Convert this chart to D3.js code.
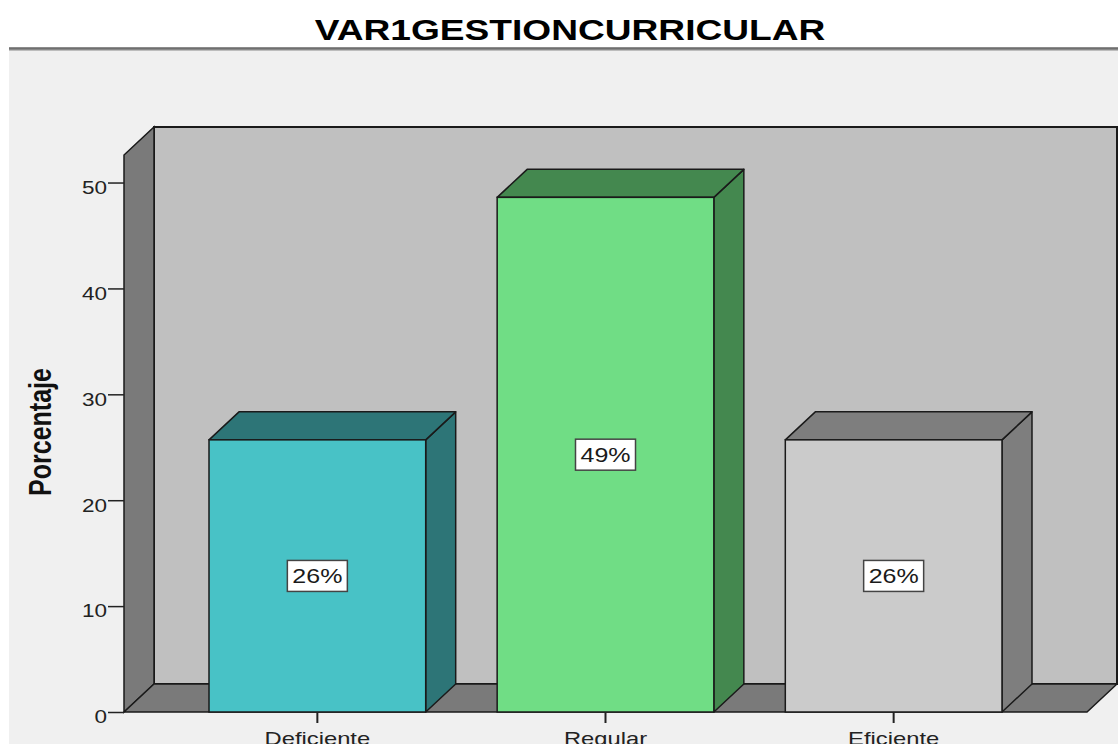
<!DOCTYPE html>
<html>
<head>
<meta charset="utf-8">
<script src="https://cdn.jsdelivr.net/npm/d3@7"></script>
<style>
  html, body { margin: 0; padding: 0; background: #ffffff; }
  svg { display: block; }
  text { font-family: "Liberation Sans", Arial, sans-serif; }
</style>
</head>
<body>
<svg id="chart" width="1118" height="744"></svg>
<script>
// ---- data ----
const categories = ["Deficiente", "Regular", "Eficiente"];
const percentages = [25.7, 48.6, 25.7];
const yTicks = [0, 10, 20, 30, 40, 50];
const title = "VAR1GESTIONCURRICULAR";
const yTitle = "Porcentaje";

// ---- styles ----
const frontColors = ["#48c2c6", "#70dd85", "#cbcbcb"];
const sideColors = ["#2d7577", "#44884f", "#7e7e7e"];
const stretch = 1.25;

const svg = d3.select("#chart");
const W = 1118, H = 744;

// panel background
svg.append("rect").attr("x", 0).attr("y", 0).attr("width", W).attr("height", H).attr("fill", "#ffffff");
svg.append("rect").attr("x", 9).attr("y", 50).attr("width", W - 9).attr("height", H - 50).attr("fill", "#f0f0f0");
svg.append("line").attr("x1", 9).attr("x2", W).attr("y1", 49).attr("y2", 49)
  .attr("stroke", "#8a8a8a").attr("stroke-width", 3);
svg.append("line").attr("x1", 9).attr("x2", W).attr("y1", 48).attr("y2", 48)
  .attr("stroke", "#555", ).attr("stroke-width", 1);

// title
svg.append("text")
  .attr("transform", `translate(570,40) scale(1.28,1)`)
  .attr("text-anchor", "middle")
  .attr("font-size", 29).attr("font-weight", "bold").attr("fill", "#000")
  .text(title);

// scales
const x = d3.scaleBand().domain(categories).range([124, 1087])
  .paddingInner(0.248).paddingOuter(0.295);
const y = d3.scaleLinear().domain([0, 52.6]).range([712, 155]);
const dx = 30, dy = -28;
const x0 = 124, x1 = 1087;
const yMax = y.domain()[1];

const stroke = "#1a1a1a";
// back wall
svg.append("polygon")
  .attr("points", [[x0 + dx, y(yMax) + dy], [x1 + dx, y(yMax) + dy], [x1 + dx, y(0) + dy], [x0 + dx, y(0) + dy]].join(" "))
  .attr("fill", "#c0c0c0").attr("stroke", stroke).attr("stroke-width", 2);
// left wall
svg.append("polygon")
  .attr("points", [[x0, y(0)], [x0, y(yMax)], [x0 + dx, y(yMax) + dy], [x0 + dx, y(0) + dy]].join(" "))
  .attr("fill", "#7a7a7a").attr("stroke", stroke).attr("stroke-width", 1.5);
// floor
svg.append("polygon")
  .attr("points", [[x0, y(0)], [x0 + dx, y(0) + dy], [x1 + dx, y(0) + dy], [x1, y(0)]].join(" "))
  .attr("fill", "#7a7a7a").attr("stroke", stroke).attr("stroke-width", 1.5);

// bars
const bars = svg.append("g").selectAll("g").data(categories).join("g");
bars.each(function (c, i) {
  const g = d3.select(this);
  const bx = x(c), bw = x.bandwidth();
  const top = y(percentages[i]), bot = y(0);
  // right side
  g.append("polygon")
    .attr("points", [[bx + bw, bot], [bx + bw, top], [bx + bw + dx, top + dy], [bx + bw + dx, bot + dy]].join(" "))
    .attr("fill", sideColors[i]).attr("stroke", stroke).attr("stroke-width", 1.5).attr("stroke-linejoin", "round");
  // top
  g.append("polygon")
    .attr("points", [[bx, top], [bx + dx, top + dy], [bx + bw + dx, top + dy], [bx + bw, top]].join(" "))
    .attr("fill", sideColors[i]).attr("stroke", stroke).attr("stroke-width", 1.5).attr("stroke-linejoin", "round");
  // front
  g.append("rect")
    .attr("x", bx).attr("y", top).attr("width", bw).attr("height", bot - top)
    .attr("fill", frontColors[i]).attr("stroke", stroke).attr("stroke-width", 1.5);
  // value label
  const cx = bx + bw / 2, cy = y(percentages[i] / 2);
  g.append("rect")
    .attr("x", cx - 30).attr("y", cy - 15.5).attr("width", 60).attr("height", 31)
    .attr("fill", "#ffffff").attr("stroke", "#444").attr("stroke-width", 1.5);
  g.append("text")
    .attr("transform", `translate(${cx},${cy + 7}) scale(${stretch},1)`)
    .attr("text-anchor", "middle").attr("font-size", 20).attr("fill", "#1a1a1a")
    .text(Math.round(percentages[i]) + "%");
});

// y axis
const yAxis = svg.append("g").attr("transform", `translate(${x0},0)`)
  .call(d3.axisLeft(y).tickValues(yTicks).tickSize(16).tickFormat(d3.format("d")));
yAxis.select(".domain").remove();
yAxis.selectAll(".tick line").attr("stroke", "#222").attr("stroke-width", 1.5);
yAxis.selectAll(".tick text")
  .attr("x", -17 / stretch).attr("dy", "0.6em")
  .attr("transform", `scale(${stretch},1)`)
  .attr("font-size", 18).attr("fill", "#222")
  .attr("font-family", "Liberation Sans, Arial, sans-serif");

// x axis
const xAxis = svg.append("g").attr("transform", `translate(0,${y(0)})`)
  .call(d3.axisBottom(x).tickSize(11).tickPadding(0));
xAxis.select(".domain").remove();
xAxis.selectAll(".tick line").attr("stroke", "#222").attr("stroke-width", 2);
xAxis.selectAll(".tick text")
  .attr("y", 0).attr("dy", 0)
  .attr("transform", `translate(0,33) scale(${stretch},1)`)
  .attr("font-size", 19).attr("fill", "#222")
  .attr("font-family", "Liberation Sans, Arial, sans-serif");

// y title
svg.append("text")
  .attr("transform", `translate(51,432) scale(${stretch},1) rotate(-90)`)
  .attr("text-anchor", "middle")
  .attr("font-size", 25).attr("font-weight", "bold").attr("fill", "#111")
  .text(yTitle);
</script>
</body>
</html>
